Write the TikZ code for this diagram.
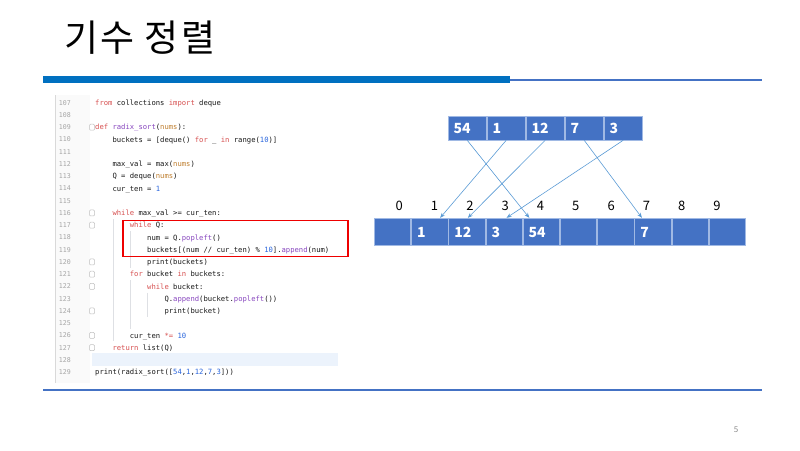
\documentclass[tikz,border=0pt]{standalone}
\usepackage{fontspec}
\setmainfont{Noto Sans CJK KR}
\setmonofont{DejaVu Sans Mono}
\usetikzlibrary{arrows.meta,positioning,calc}
\definecolor{barblue}{RGB}{0,112,192}
\definecolor{lineblue}{RGB}{68,114,196}
\definecolor{cellblue}{RGB}{68,114,196}
\definecolor{celledge}{RGB}{160,185,228}
\definecolor{arrowblue}{RGB}{91,155,213}
\definecolor{kwred}{RGB}{214,80,80}
\definecolor{numblue}{RGB}{40,100,220}
\definecolor{fnpurple}{RGB}{135,70,190}
\definecolor{argorange}{RGB}{190,125,45}
\definecolor{codeblack}{RGB}{25,25,25}
\definecolor{gutter}{RGB}{165,165,165}
\definecolor{guide}{RGB}{222,224,228}
\definecolor{curline}{RGB}{236,243,252}
\definecolor{boxred}{RGB}{238,0,0}

\newcommand{\kw}[1]{\textcolor{kwred}{#1}}
\newcommand{\nm}[1]{\textcolor{numblue}{#1}}
\newcommand{\fn}[1]{\textcolor{fnpurple}{#1}}
\newcommand{\ar}[1]{\textcolor{argorange}{#1}}
\newcommand{\chw}{4.335}
\newcommand{\lny}[1]{102.7+(#1-107)*12.25}
\newcommand{\codeline}[3]{\node[codetext] (c#1) at ({95+#2*\chw},{\lny{#1}+2.6}) {#3};}

\begin{document}
\begin{tikzpicture}[
  x=1pt,y=-1pt,
  >={Stealth[length=5pt,width=4pt]},
  title/.style={anchor=west,inner sep=0,
    font=\fontsize{37}{41}\selectfont\addfontfeature{LetterSpace=6}},
  codetext/.style={anchor=base west,inner sep=0,text=codeblack,
    font=\ttfamily\fontsize{7.2}{8}\selectfont},
  lineno/.style={anchor=base east,inner sep=0,text=gutter,
    font=\ttfamily\fontsize{6.6}{8}\selectfont},
  foldmark/.style={draw=gutter!70,line width=0.5pt,rounded corners=1pt},
  guideline/.style={draw=guide,line width=0.6pt},
  hlbox/.style={draw=boxred,line width=1.8pt,inner sep=0},
  topcell/.style={draw=celledge,fill=cellblue,line width=0.8pt,text=white,
    font=\fontsize{14}{16}\selectfont\bfseries,inner sep=0,inner xsep=5.5pt,
    text width=27.2pt,minimum height=23.5pt,align=left},
  botcell/.style={topcell,text width=25.4pt,minimum height=26.7pt},
  idx/.style={inner sep=0,font=\fontsize{13}{15}\selectfont},
  arrow/.style={->,draw=arrowblue,line width=0.6pt}
]
\useasboundingbox (0,0) rectangle (800,450);

% Title and rules.
\node[title] (title) at (64,37.5) {기수 정렬};
\fill[barblue] (43,76) rectangle (510,83);
\draw[lineblue,line width=1.6pt] (510,80) -- (762,80);
\draw[lineblue,line width=1.6pt] (43,390) -- (762,390);
\node[inner sep=0,text=black!45,font=\fontsize{8}{9}\selectfont] (pageno) at (736,430) {5};

% Editor panel.
\fill[black!2] (55,95) rectangle (90,383);
\draw[black!15,line width=0.6pt] (55,95) -- (55,383);
\fill[curline] (92,{\lny{128}-6.5}) rectangle (338,{\lny{128}+6.5});
\foreach \n in {107,...,129}
  \node[lineno] (n\n) at (71,{\lny{\n}+2.4}) {\n};
\foreach \n in {109,116,117,120,121,122,124,126,127}
  \draw[foldmark] (89.5,{\lny{\n}-3}) rectangle (94.5,{\lny{\n}+3});

% Indent guides.
\draw[guideline] ({95+4*\chw+0.5},{\lny{117}-6}) -- ({95+4*\chw+0.5},{\lny{126}+6});
\draw[guideline] ({95+8*\chw+0.5},{\lny{118}-6}) -- ({95+8*\chw+0.5},{\lny{120}+6});
\draw[guideline] ({95+8*\chw+0.5},{\lny{122}-6}) -- ({95+8*\chw+0.5},{\lny{125}+6});
\draw[guideline] ({95+12*\chw+0.5},{\lny{123}-6}) -- ({95+12*\chw+0.5},{\lny{124}+6});

\codeline{107}{0}{\kw{from} collections \kw{import} deque}
\codeline{109}{0}{\kw{def} \fn{radix\_sort}(\ar{nums}):}
\codeline{110}{4}{buckets = [deque() \kw{for} \_ \kw{in} range(\nm{10})]}
\codeline{112}{4}{max\_val = max(\ar{nums})}
\codeline{113}{4}{Q = deque(\ar{nums})}
\codeline{114}{4}{cur\_ten = \nm{1}}
\codeline{116}{4}{\kw{while} max\_val >= cur\_ten:}
\codeline{117}{8}{\kw{while} Q:}
\codeline{118}{12}{num = Q.\fn{popleft}()}
\codeline{119}{12}{buckets[(num // cur\_ten) \% \nm{10}].\fn{append}(num)}
\codeline{120}{12}{print(buckets)}
\codeline{121}{8}{\kw{for} bucket \kw{in} buckets:}
\codeline{122}{12}{\kw{while} bucket:}
\codeline{123}{16}{Q.\fn{append}(bucket.\fn{popleft}())}
\codeline{124}{16}{print(bucket)}
\codeline{126}{8}{cur\_ten \kw{*=} \nm{10}}
\codeline{127}{4}{\kw{return} list(Q)}
\codeline{129}{0}{print(radix\_sort([\nm{54},\nm{1},\nm{12},\nm{7},\nm{3}]))}

% Highlighted inner loop.
\node[hlbox,anchor=north west,minimum width=225pt,minimum height=36pt] (hl) at (122,219.5) {};

% Input queue.
\node[topcell,anchor=north west] (t0) at (447.7,116) {54};
\node[topcell,right=0pt of t0] (t1) {1};
\node[topcell,right=0pt of t1] (t2) {12};
\node[topcell,right=0pt of t2] (t3) {7};
\node[topcell,right=0pt of t3] (t4) {3};

% Buckets 0..9.
\node[botcell,anchor=north west] (b0) at (374,218.3) {};
\node[botcell,right=0pt of b0] (b1) {1};
\node[botcell,right=0pt of b1] (b2) {12};
\node[botcell,right=0pt of b2] (b3) {3};
\node[botcell,right=0pt of b3] (b4) {54};
\node[botcell,right=0pt of b4] (b5) {};
\node[botcell,right=0pt of b5] (b6) {};
\node[botcell,right=0pt of b6] (b7) {7};
\node[botcell,right=0pt of b7] (b8) {};
\node[botcell,right=0pt of b8] (b9) {};
\foreach \i in {0,...,9}
  \node[idx] (lab\i) at ({399.3+35.3*\i},205.5) {\i};

% Distribution by ones digit.
\draw[arrow] (t0.south) -- ($(b4.north west)+(6.5,-0.5)$);
\draw[arrow] (t1.south) -- ($(b1.north west)+(29,-0.5)$);
\draw[arrow] (t2.south) -- ($(b2.north west)+(19.5,-0.5)$);
\draw[arrow] (t3.south) -- ($(b7.north west)+(7.5,-0.5)$);
\draw[arrow] (t4.south) -- ($(b3.north west)+(21,-0.5)$);
\end{tikzpicture}
\end{document}
